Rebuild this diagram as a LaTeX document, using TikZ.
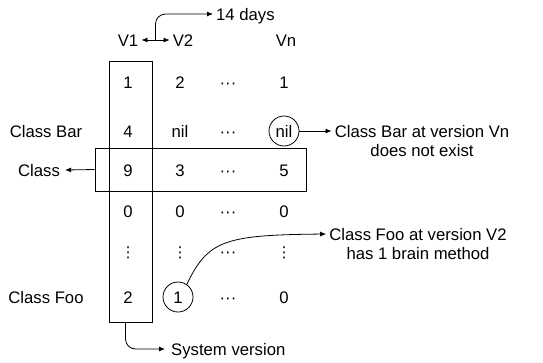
\documentclass[tikz,border=0pt]{standalone}
\usepackage{fontspec}
\setmainfont{Liberation Sans}
\newfontfamily\djvfont{DejaVu Sans}
\usetikzlibrary{arrows.meta,calc}
\begin{document}
\begin{tikzpicture}[x=1pt,y=-1pt,
  every node/.style={font=\fontsize{16.7pt}{19pt}\selectfont, inner sep=0pt},
  lbl/.style={text height=12pt, text depth=0pt},
  vd/.style={font=\fontsize{15pt}{15pt}\djvfont, text height=11pt, text depth=0pt},
  arr/.style={-{Latex[length=6pt,width=5pt]}, line width=0.8pt},
  darr/.style={{Latex[length=6pt,width=5pt]}-{Latex[length=6pt,width=5pt]}, line width=0.8pt},
  box/.style={draw, line width=0.8pt},
  circ/.style={draw, circle, line width=0.8pt, minimum size=30pt, text height=12pt, text depth=0pt},
  txt/.style={align=center},
  ]
\useasboundingbox (0,0) rectangle (543,362);

% frames
\node[box, minimum width=43pt, minimum height=261pt] (col) at (130.5,191.5) {};
\node[box, minimum width=211pt, minimum height=43pt] (row) at (200.5,169.5) {};

% headers
\node[lbl] (v1) at (128,40) {V1};
\node[lbl] (v2) at (183,40) {V2};
\node[lbl] (vn) at (286,40) {Vn};
\node[lbl, anchor=west] (days) at (216,14) {14 days};

% row labels
\node[lbl] (bar) at (46,131) {Class Bar};
\node[lbl] (cls) at (39,170) {Class};
\node[lbl] (foo) at (46,297) {Class Foo};

% values
\node[lbl] (a1) at (128,82) {1};
\node[lbl] (b1) at (180,82) {2};
\node[lbl] (c1) at (228,82) {···};
\node[lbl] (d1) at (284,82) {1};

\node[lbl] (a2) at (128,131) {4};
\node[lbl] (b2) at (180,131) {nil};
\node[lbl] (c2) at (228,131) {···};
\node[circ] (d2) at (284,131) {nil};

\node[lbl] (a3) at (128,170) {9};
\node[lbl] (b3) at (180,170) {3};
\node[lbl] (c3) at (228,170) {···};
\node[lbl] (d3) at (284,170) {5};

\node[lbl] (a4) at (128,211) {0};
\node[lbl] (b4) at (180,211) {0};
\node[lbl] (c4) at (228,211) {···};
\node[lbl] (d4) at (284,211) {0};

\node[vd] (a5) at (128,252) {⋮};
\node[vd] (b5) at (180,252) {⋮};
\node[lbl] (c5) at (228,251) {···};
\node[vd] (d5) at (284,252) {⋮};

\node[lbl] (a6) at (128,297) {2};
\node[circ] (b6) at (178,297) {1};
\node[lbl] (c6) at (228,297) {···};
\node[lbl] (d6) at (284,297) {0};

% annotations
\node[txt, anchor=north] (bartxt) at (422,125) {Class Bar at version Vn\\does not exist};
\node[txt, anchor=north] (footxt) at (418,228) {Class Foo at version V2\\has 1 brain method};
\node[lbl, anchor=west] (sys) at (171,349) {System version};

% connectors
\draw[darr] ($(v1.east)+(3,0)$) coordinate (p1) -- ($(v2.west)+(-3,0)$) coordinate (p2);
\coordinate (m) at ($(p1)!0.5!(p2)$);
\draw[arr, rounded corners=10pt] (m) |- ($(days.west)+(-3,0)$);
\draw[arr] (row.west) -- ($(cls.east)+(5,0)$);
\draw[arr] (d2.east) -- ($(bartxt.west |- d2.east)+(-3,0)$);
\draw[arr] (b6.55) .. controls (208,240) and (225,235) .. ($(footxt.west |- 0,234)+(-3,0)$);
\draw[arr, rounded corners=10pt] ($(col.south)+(-5,0)$) |- ($(sys.west)+(-6,0)$);
\end{tikzpicture}
\end{document}
